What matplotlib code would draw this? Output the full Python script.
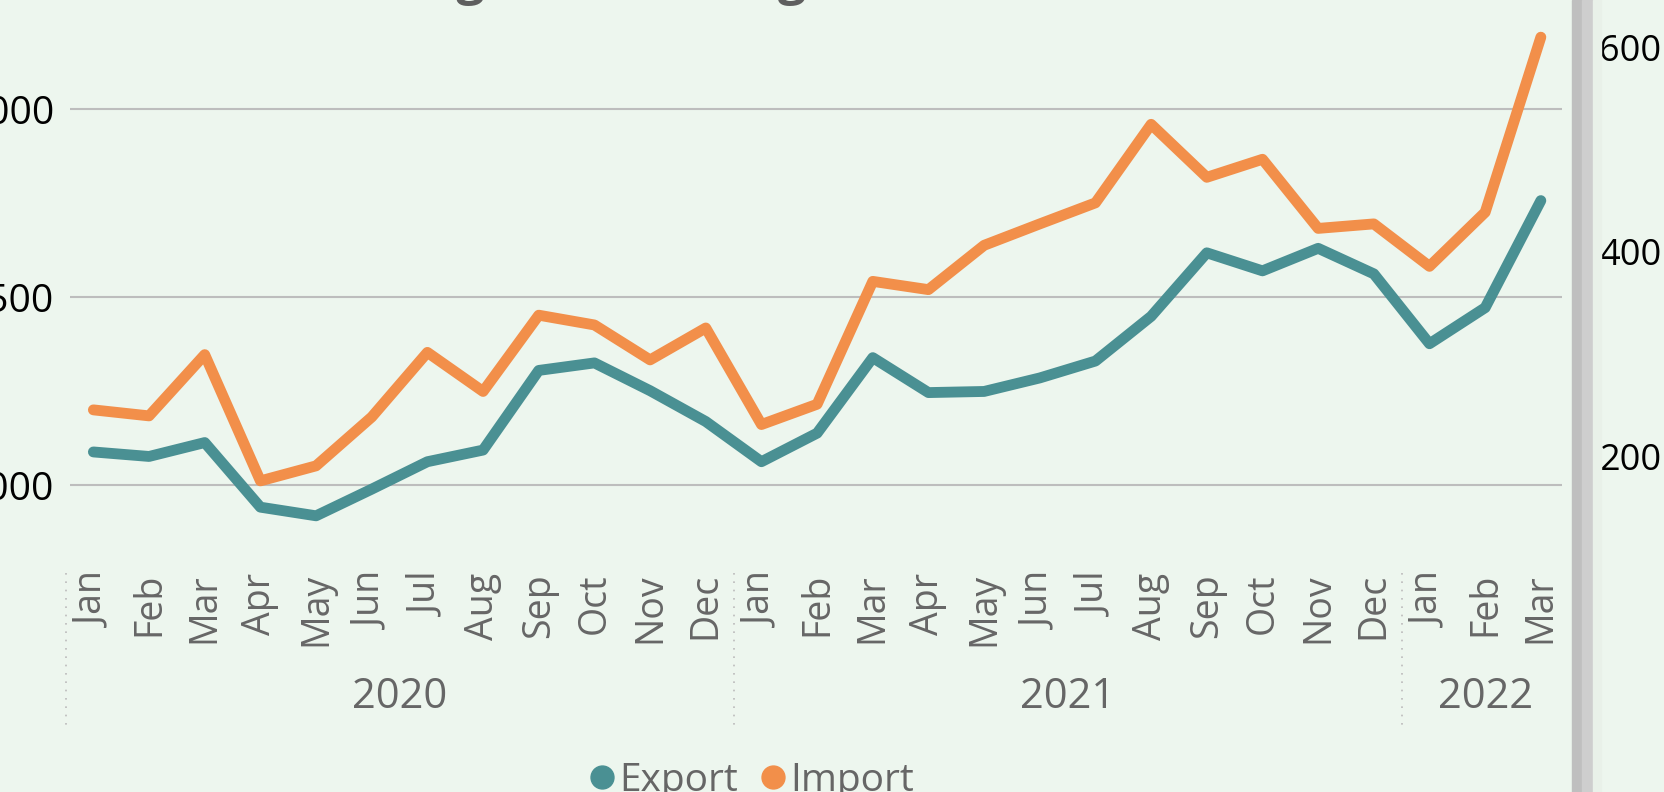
import matplotlib.pyplot as plt
from matplotlib.lines import Line2D
from matplotlib.patches import Rectangle

plt.rcParams['font.family'] = ['Open Sans', 'DejaVu Sans']

# data
months = ['Jan', 'Feb', 'Mar', 'Apr', 'May', 'Jun', 'Jul', 'Aug', 'Sep', 'Oct', 'Nov', 'Dec',
          'Jan', 'Feb', 'Mar', 'Apr', 'May', 'Jun', 'Jul', 'Aug', 'Sep', 'Oct', 'Nov', 'Dec',
          'Jan', 'Feb', 'Mar']
years = ['2020', '2021', '2022']
year_start = [0, 12, 24]
year_len = [12, 12, 3]
export = [1088, 1076, 1113, 941, 918, 989, 1062, 1093, 1305, 1325, 1251, 1169,
          1062, 1138, 1339, 1246, 1249, 1285, 1330, 1449, 1618, 1570, 1630, 1562,
          1376, 1472, 1757]
imports = [1200, 1184, 1347, 1011, 1051, 1181, 1353, 1249, 1452, 1426, 1333, 1418,
           1161, 1215, 1542, 1520, 1638, 1695, 1751, 1960, 1819, 1867, 1683, 1695,
           1582, 1726, 2192]
left_ticks = [1000, 1500, 2000]
right_ticks = [200, 400, 600]

bg = '#EDF6EE'
teal = '#4A9093'
orange = '#F28F4A'
grey_txt = '#666666'

W, H = 1664, 792
fig = plt.figure(figsize=(W / 100, H / 100), dpi=100)
fig.patch.set_facecolor(bg)

ax = fig.add_axes([70 / W, 1 - 560 / H, (1562 - 70) / W, (560 - 20) / H])
ax.set_facecolor('none')
x = list(range(len(months)))
ax.plot(x, export, color=teal, lw=7.8, solid_capstyle='round', solid_joinstyle='round')
ax.plot(x, imports, color=orange, lw=7.8, solid_capstyle='round', solid_joinstyle='round')
ax.set_xlim(-0.42, 26.38)
ax.set_ylim(800.4, 2237.7)
for s in ax.spines.values():
    s.set_visible(False)
ax.set_yticks(left_ticks)
ax.set_yticklabels([str(v) for v in left_ticks])
ax.grid(axis='y', color='#BDBDBD', lw=1.5)
ax.tick_params(axis='y', length=0, pad=11.5, labelsize=28, labelcolor='black')
ax.set_xticks(x)
ax.set_xticklabels(months, rotation=90)
ax.tick_params(axis='x', length=0, pad=9.4, labelsize=27, labelcolor=grey_txt)

# year level of the hierarchical axis
tr = ax.get_xaxis_transform()
for yr, st, n in zip(years, year_start, year_len):
    ax.text(st + (n - 1) / 2, -0.2537, yr, transform=tr, ha='center', va='center',
            fontsize=30, color=grey_txt)
for st in year_start:
    ax.plot([st - 0.5, st - 0.5], [-0.024, -0.315], transform=tr, clip_on=False,
            ls=(0, (1, 4)), lw=1.2, color='#BBBBBB')

# title, mostly cut off at the top
fig.text(0.179, 1 + 6 / H, 'Trading Value Change', ha='left', va='baseline',
         fontsize=36, fontweight='bold', color='#5F5F5F')

# legend at the bottom, cut off
handles = [Line2D([], [], ls='', marker='o', ms=16.5, color=teal),
           Line2D([], [], ls='', marker='o', ms=16.5, color=orange)]
fig.legend(handles, ['Export', 'Import'], loc='upper center', bbox_to_anchor=(750 / W, 1 - 762 / H),
           ncol=2, frameon=False, fontsize=28, labelcolor=grey_txt, handletextpad=0.05,
           columnspacing=0.5, borderpad=0, borderaxespad=0, handlelength=0.8)

# neighbouring visual on the right
fig.add_artist(Rectangle((1572 / W, 0), 10 / W, 1, transform=fig.transFigure, color='#BFBFBF'))
fig.add_artist(Rectangle((1582 / W, 0), 11 / W, 1, transform=fig.transFigure, color='#CECECE'))
fig.add_artist(Rectangle((1593 / W, 0), 8 / W, 1, transform=fig.transFigure, color='#E9F1E9'))

ax2 = fig.add_axes([1661 / W, 0, 0.1, 1])
ax2.set_facecolor('none')
ax2.set_ylim(-129.2, 646.8)
ax2.set_yticks(right_ticks)
ax2.set_yticklabels([str(v) for v in right_ticks])
ax2.set_xticks([])
ax2.tick_params(axis='y', length=0, pad=0, labelsize=26, labelcolor='black')
for s in ax2.spines.values():
    s.set_visible(False)

fig.savefig('out.png', dpi=100, facecolor=bg)
